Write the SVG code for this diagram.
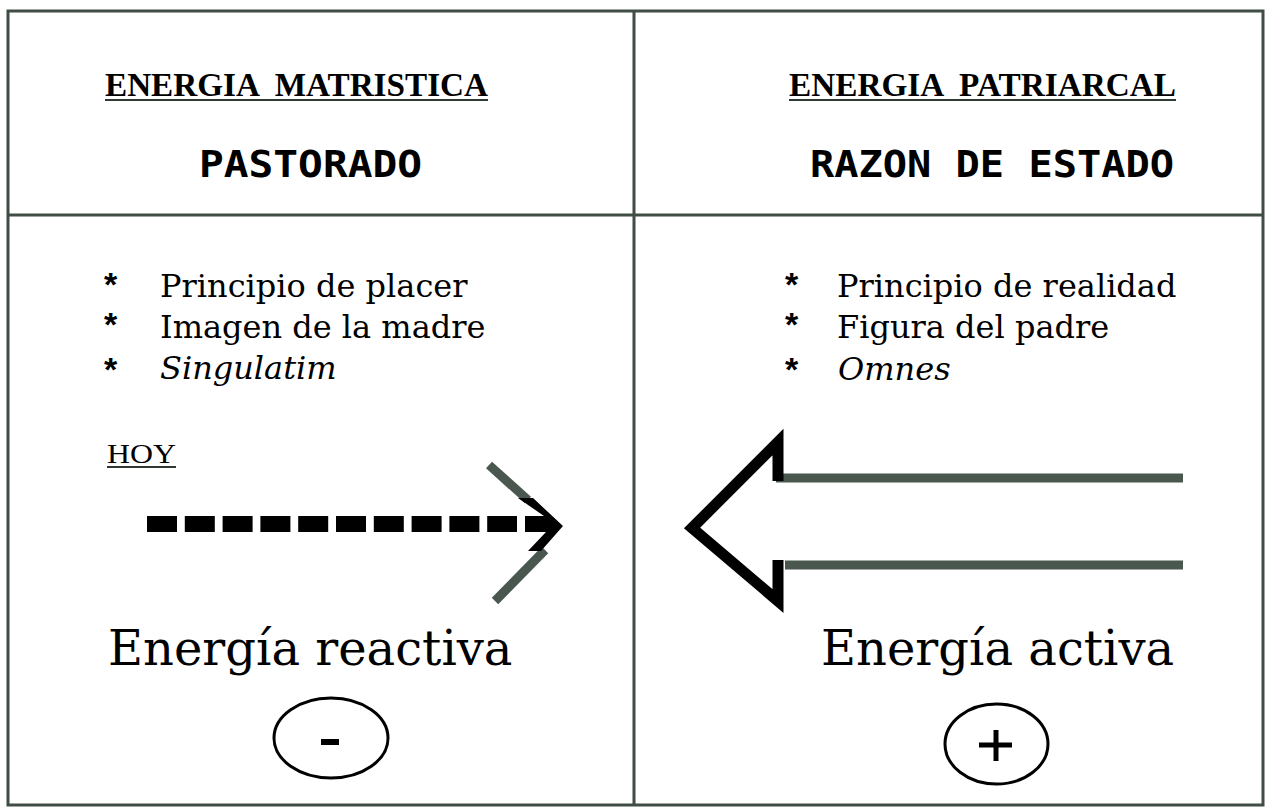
<svg xmlns="http://www.w3.org/2000/svg" width="1266" height="809" viewBox="0 0 1266 809">
<style>
.frame{fill:none;stroke:#3f4d44;stroke-width:3}
.head{font-family:"Liberation Serif",serif;font-weight:bold;font-size:33px;fill:#000}
.lcd{font-family:"DejaVu Sans Mono",monospace;font-weight:bold;font-size:37px;fill:#000}
.item{font-family:"DejaVu Serif",serif;font-size:32px;fill:#000}
.it{font-style:italic}
.star{font-family:"Liberation Sans",sans-serif;font-weight:bold;font-size:34px;fill:#000}
.ul{stroke:#2f3a33;stroke-width:2}
.big{font-family:"DejaVu Serif",serif;font-size:48px;fill:#000}
.grey{stroke:#4a574f;stroke-width:9;fill:none}
.sign{fill:none;stroke:#000;stroke-width:3}
</style>
<rect width="1266" height="809" fill="#fff"/>
<g id="frame">
<rect class="frame" x="8" y="11" width="1255" height="794"/>
<line class="frame" x1="634" y1="11" x2="634" y2="805"/>
<line class="frame" x1="8" y1="215" x2="1263" y2="215"/>
</g>
<g id="left-header">
<text class="head" x="105" y="96" xml:space="preserve" textLength="383" lengthAdjust="spacingAndGlyphs">ENERGIA  MATRISTICA</text>
<line class="ul" x1="105" y1="100" x2="488" y2="100"/>
<text class="lcd" x="199" y="177" textLength="223" lengthAdjust="spacingAndGlyphs">PASTORADO</text>
</g>
<g id="right-header">
<text class="head" x="789" y="96" xml:space="preserve" textLength="387" lengthAdjust="spacingAndGlyphs">ENERGIA  PATRIARCAL</text>
<line class="ul" x1="789" y1="100" x2="1176" y2="100"/>
<text class="lcd" x="810" y="177" xml:space="preserve" textLength="364" lengthAdjust="spacingAndGlyphs">RAZON DE ESTADO</text>
</g>
<g id="left-list">
<text class="star" x="104" y="296">*</text>
<text class="star" x="104" y="336">*</text>
<text class="star" x="104" y="381">*</text>
<text class="item" x="160" y="297">Principio de placer</text>
<text class="item" x="160" y="338">Imagen de la madre</text>
<text class="item it" x="160" y="379">Singulatim</text>
</g>
<g id="right-list">
<text class="star" x="785" y="296">*</text>
<text class="star" x="785" y="336">*</text>
<text class="star" x="785" y="381">*</text>
<text class="item" x="837" y="297">Principio de realidad</text>
<text class="item" x="837" y="338">Figura del padre</text>
<text class="item it" x="838" y="380">Omnes</text>
</g>
<g id="hoy">
<text class="head" style="font-weight:normal;font-size:27px" x="107" y="463" textLength="69" lengthAdjust="spacingAndGlyphs">HOY</text>
<line class="ul" x1="107" y1="467" x2="176" y2="467"/>
</g>
<g id="connectors">
<g id="reactive-arrow">
<line x1="147" y1="524" x2="517" y2="524" stroke="#000" stroke-width="16" stroke-dasharray="30 7.8"/>
<line class="grey" x1="489" y1="465" x2="528" y2="500"/>
<line class="grey" x1="545" y1="550" x2="495" y2="601"/>
<polygon fill="#000" points="518,498 533,498 563,526 541,551 528,551 546,532 525,532 525,516 544,516"/>
</g>
<g id="active-arrow">
<line class="grey" x1="776" y1="478" x2="1183" y2="478"/>
<line class="grey" x1="785" y1="565" x2="1183" y2="565"/>
<polyline fill="none" stroke="#000" stroke-width="11" stroke-linejoin="miter" stroke-miterlimit="10" points="778,560 778,601 692,528 778,442 778,481"/>
</g>
</g>
<g id="left-energy">
<text class="big" x="108" y="665">Energía reactiva</text>
<ellipse class="sign" cx="331" cy="738" rx="57" ry="40"/>
<rect x="321" y="739" width="18" height="6" fill="#000"/>
</g>
<g id="right-energy">
<text class="big" x="821" y="665">Energía activa</text>
<ellipse class="sign" cx="996.5" cy="744" rx="51.5" ry="40"/>
<line x1="979" y1="745" x2="1012" y2="745" stroke="#000" stroke-width="5"/>
<line x1="996" y1="730" x2="996" y2="761" stroke="#000" stroke-width="5"/>
</g>
</svg>
